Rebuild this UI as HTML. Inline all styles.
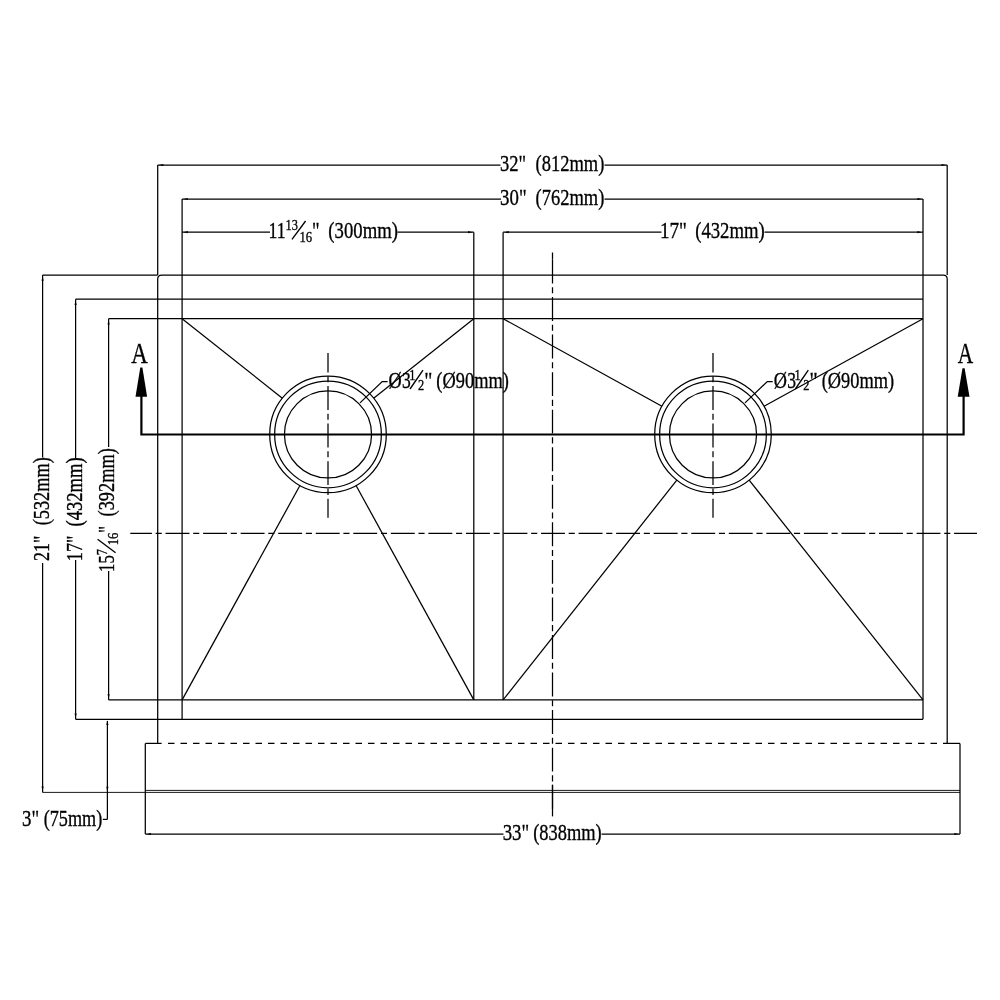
<!DOCTYPE html>
<html><head><meta charset="utf-8"><style>
html,body{margin:0;padding:0;background:#fff;}
svg{display:block;}
text{font-family:"Liberation Serif",serif;fill:#000;stroke:#000;stroke-width:0.35px;}
</style></head><body>
<svg width="1000" height="1000" viewBox="0 0 1000 1000">
<rect width="1000" height="1000" fill="#fff"/>
<line x1="157.70" y1="165.00" x2="500.50" y2="165.00" stroke="#000" stroke-width="1.25" />
<line x1="604.50" y1="165.00" x2="947.20" y2="165.00" stroke="#000" stroke-width="1.25" />
<line x1="182.10" y1="199.00" x2="501.00" y2="199.00" stroke="#000" stroke-width="1.25" />
<line x1="604.50" y1="199.00" x2="923.00" y2="199.00" stroke="#000" stroke-width="1.25" />
<line x1="182.10" y1="232.20" x2="270.00" y2="232.20" stroke="#000" stroke-width="1.25" />
<line x1="397.50" y1="232.20" x2="473.80" y2="232.20" stroke="#000" stroke-width="1.25" />
<line x1="503.10" y1="232.20" x2="661.50" y2="232.20" stroke="#000" stroke-width="1.25" />
<line x1="764.50" y1="232.20" x2="923.00" y2="232.20" stroke="#000" stroke-width="1.25" />
<line x1="157.70" y1="165.00" x2="157.70" y2="275.00" stroke="#000" stroke-width="1.25" />
<line x1="947.20" y1="165.00" x2="947.20" y2="275.00" stroke="#000" stroke-width="1.25" />
<line x1="182.10" y1="199.00" x2="182.10" y2="719.30" stroke="#000" stroke-width="1.25" />
<line x1="923.00" y1="199.00" x2="923.00" y2="719.30" stroke="#000" stroke-width="1.25" />
<line x1="473.80" y1="232.20" x2="473.80" y2="699.90" stroke="#000" stroke-width="1.25" />
<line x1="503.10" y1="232.20" x2="503.10" y2="699.90" stroke="#000" stroke-width="1.25" />
<path d="M157.7,743.4 L157.7,279.0 Q157.7,275.0 161.7,275.0 L943.2,275.0 Q947.2,275.0 947.2,279.0 L947.2,743.4" stroke="#000" stroke-width="1.25" fill="none" />
<line x1="42.60" y1="275.00" x2="157.70" y2="275.00" stroke="#000" stroke-width="1.25" />
<line x1="75.60" y1="299.20" x2="923.00" y2="299.20" stroke="#000" stroke-width="1.25" />
<line x1="108.60" y1="318.70" x2="923.00" y2="318.70" stroke="#000" stroke-width="1.25" />
<line x1="108.60" y1="699.90" x2="923.00" y2="699.90" stroke="#000" stroke-width="1.25" />
<line x1="75.60" y1="719.30" x2="923.00" y2="719.30" stroke="#000" stroke-width="1.25" />
<line x1="42.60" y1="275.00" x2="42.60" y2="457.50" stroke="#000" stroke-width="1.25" />
<line x1="42.60" y1="563.00" x2="42.60" y2="792.40" stroke="#000" stroke-width="1.25" />
<line x1="75.60" y1="299.20" x2="75.60" y2="458.00" stroke="#000" stroke-width="1.25" />
<line x1="75.60" y1="560.00" x2="75.60" y2="719.30" stroke="#000" stroke-width="1.25" />
<line x1="108.60" y1="318.70" x2="108.60" y2="447.00" stroke="#000" stroke-width="1.25" />
<line x1="108.60" y1="571.00" x2="108.60" y2="699.90" stroke="#000" stroke-width="1.25" />
<line x1="107.40" y1="721.00" x2="107.40" y2="819.40" stroke="#000" stroke-width="1.25" />
<line x1="102.80" y1="819.40" x2="107.40" y2="819.40" stroke="#000" stroke-width="1.25" />
<line x1="145.30" y1="743.40" x2="145.30" y2="834.00" stroke="#000" stroke-width="1.25" />
<line x1="960.00" y1="743.40" x2="960.00" y2="834.00" stroke="#000" stroke-width="1.25" />
<line x1="145.30" y1="743.40" x2="161.60" y2="743.40" stroke="#000" stroke-width="1.25" />
<line x1="168.00" y1="743.40" x2="947.20" y2="743.40" stroke="#000" stroke-width="1.25" stroke-dasharray="6.5 6"/>
<line x1="946.20" y1="743.40" x2="960.00" y2="743.40" stroke="#000" stroke-width="1.25" />
<line x1="145.30" y1="790.40" x2="960.00" y2="790.40" stroke="#000" stroke-width="0.9" />
<line x1="42.60" y1="792.40" x2="960.00" y2="792.40" stroke="#000" stroke-width="0.9" />
<line x1="145.30" y1="834.00" x2="503.50" y2="834.00" stroke="#000" stroke-width="1.25" />
<line x1="601.50" y1="834.00" x2="960.00" y2="834.00" stroke="#000" stroke-width="1.25" />
<circle cx="328.0" cy="434.4" r="58.3" stroke="#000" stroke-width="1.25" fill="none"/>
<circle cx="328.0" cy="434.4" r="53.35" stroke="#000" stroke-width="1.25" fill="none"/>
<circle cx="328.0" cy="434.4" r="43.55" stroke="#000" stroke-width="1.25" fill="none"/>
<circle cx="713.0" cy="434.4" r="58.3" stroke="#000" stroke-width="1.25" fill="none"/>
<circle cx="713.0" cy="434.4" r="53.35" stroke="#000" stroke-width="1.25" fill="none"/>
<circle cx="713.0" cy="434.4" r="43.55" stroke="#000" stroke-width="1.25" fill="none"/>
<line x1="182.10" y1="318.70" x2="282.32" y2="398.18" stroke="#000" stroke-width="1.25" />
<line x1="473.80" y1="318.70" x2="373.67" y2="398.16" stroke="#000" stroke-width="1.25" />
<line x1="182.10" y1="699.90" x2="299.92" y2="485.49" stroke="#000" stroke-width="1.25" />
<line x1="473.80" y1="699.90" x2="356.06" y2="485.50" stroke="#000" stroke-width="1.25" />
<line x1="503.10" y1="318.70" x2="661.94" y2="406.26" stroke="#000" stroke-width="1.25" />
<line x1="923.00" y1="318.70" x2="764.06" y2="406.27" stroke="#000" stroke-width="1.25" />
<line x1="503.10" y1="699.90" x2="676.84" y2="480.13" stroke="#000" stroke-width="1.25" />
<line x1="923.00" y1="699.90" x2="749.17" y2="480.13" stroke="#000" stroke-width="1.25" />
<path d="M360.0,402.9 L382.2,381.5 L387.6,381.5" stroke="#000" stroke-width="1.25" fill="none" />
<path d="M745.0,402.9 L767.3,381.5 L772.7,381.5" stroke="#000" stroke-width="1.25" fill="none" />
<line x1="552.50" y1="252.50" x2="552.50" y2="259.60" stroke="#000" stroke-width="1.25" />
<line x1="552.50" y1="259.50" x2="552.50" y2="809.40" stroke="#000" stroke-width="1.25" stroke-dasharray="23.9 3.75 6.1 3.8"/>
<line x1="552.50" y1="784.60" x2="552.50" y2="816.40" stroke="#000" stroke-width="1.25" />
<line x1="130.3" y1="533.4" x2="977" y2="533.4" stroke="#000" stroke-width="1.25" stroke-dasharray="23.9 3.75 6.1 3.8" stroke-dashoffset="2.3"/>
<line x1="328.00" y1="353.00" x2="328.00" y2="517.70" stroke="#000" stroke-width="1.25" stroke-dasharray="23.9 3.75 6.1 3.8" stroke-dashoffset="4.5"/>
<line x1="713.00" y1="353.00" x2="713.00" y2="517.70" stroke="#000" stroke-width="1.25" stroke-dasharray="23.9 3.75 6.1 3.8" stroke-dashoffset="4.5"/>
<path d="M141.4,396 L141.4,434.5 L963.6,434.5 L963.6,396" stroke="#000" stroke-width="2.2" fill="none" />
<polygon points="140.3,367.6 142.4,367.6 147.1,396.7 135.5,396.7" fill="#000"/>
<polygon points="962.5,368.2 964.6,368.2 969.5,396.7 957.7,396.7" fill="#000"/>
<polygon points="158.90,165.00 163.40,163.90 163.40,166.10" fill="#000"/>
<polygon points="946.00,165.00 941.50,166.10 941.50,163.90" fill="#000"/>
<polygon points="183.30,199.00 187.80,197.90 187.80,200.10" fill="#000"/>
<polygon points="921.80,199.00 917.30,200.10 917.30,197.90" fill="#000"/>
<polygon points="183.30,232.20 187.80,231.10 187.80,233.30" fill="#000"/>
<polygon points="472.60,232.20 468.10,233.30 468.10,231.10" fill="#000"/>
<polygon points="504.30,232.20 508.80,231.10 508.80,233.30" fill="#000"/>
<polygon points="921.80,232.20 917.30,233.30 917.30,231.10" fill="#000"/>
<polygon points="146.50,834.00 151.00,832.90 151.00,835.10" fill="#000"/>
<polygon points="958.80,834.00 954.30,835.10 954.30,832.90" fill="#000"/>
<polygon points="42.60,276.20 43.70,280.70 41.50,280.70" fill="#000"/>
<polygon points="42.60,790.90 41.50,786.40 43.70,786.40" fill="#000"/>
<polygon points="75.60,300.40 76.70,304.90 74.50,304.90" fill="#000"/>
<polygon points="75.60,718.10 74.50,713.60 76.70,713.60" fill="#000"/>
<polygon points="108.60,319.90 109.70,324.40 107.50,324.40" fill="#000"/>
<polygon points="108.60,698.70 107.50,694.20 109.70,694.20" fill="#000"/>
<polygon points="107.40,720.60 108.50,725.10 106.30,725.10" fill="#000"/>
<polygon points="107.40,791.20 106.30,786.70 108.50,786.70" fill="#000"/>
<g opacity="0.999">
<text transform="translate(500.07,171.00) scale(0.8058,1)" font-size="23.0">32&quot;</text>
<text transform="translate(535.57,171.00) scale(0.8038,1)" font-size="23.0">(812mm)</text>
<text transform="translate(500.06,205.00) scale(0.8192,1)" font-size="23.0">30&quot;</text>
<text transform="translate(535.57,205.00) scale(0.8038,1)" font-size="23.0">(762mm)</text>
<text transform="translate(659.88,238.00) scale(0.8315,1)" font-size="23.0">17&quot;</text>
<text transform="translate(695.16,238.00) scale(0.8133,1)" font-size="23.0">(432mm)</text>
<text transform="translate(502.66,840.00) scale(0.8192,1)" font-size="23.0">33&quot;</text>
<text transform="translate(533.17,840.00) scale(0.8014,1)" font-size="23.0">(838mm)</text>
<text transform="translate(22.06,826.00) scale(0.8203,1)" font-size="23.0">3&quot;</text>
<text transform="translate(43.68,826.00) scale(0.7905,1)" font-size="23.0">(75mm)</text>
<g transform="translate(49.1,560.1) rotate(-90)"><text transform="translate(-0.81,0.00) scale(0.7826,1)" font-size="23.0">21&quot;</text><text transform="translate(34.78,0.00) scale(0.7954,1)" font-size="23.0">(532mm)</text></g>
<g transform="translate(82.0,559.5) rotate(-90)"><text transform="translate(-1.64,0.00) scale(0.7899,1)" font-size="23.0">17&quot;</text><text transform="translate(32.96,0.00) scale(0.8098,1)" font-size="23.0">(432mm)</text></g>
<g transform="translate(270,238)"><text transform="translate(-1.60,0.00) scale(0.7729,1)" font-size="23.0">11</text><text transform="translate(15.49,-7.80) scale(0.8000,1)" font-size="15.5">13</text><line x1="22" y1="1.4" x2="35.6" y2="-17" stroke="#000" stroke-width="1.35"/><text transform="translate(29.46,3.80) scale(0.8200,1)" font-size="15.5">16</text><text transform="translate(41.99,0.00) scale(0.8075,1)" font-size="23.0">&quot;</text><text transform="translate(58.36,0.00) scale(0.8133,1)" font-size="23.0">(300mm)</text></g>
<g transform="translate(114.4,570.4) rotate(-90)"><text transform="translate(-1.49,0.00) scale(0.7196,1)" font-size="23.0">15</text><text transform="translate(15.08,-7.80) scale(0.8000,1)" font-size="15.5">7</text><line x1="17.6" y1="1.2" x2="31.2" y2="-16.8" stroke="#000" stroke-width="1.35"/><text transform="translate(25.06,4.00) scale(0.8200,1)" font-size="15.5">16</text><text transform="translate(37.73,0.00) scale(0.7143,1)" font-size="23.0">&quot;</text><text transform="translate(53.98,0.00) scale(0.7966,1)" font-size="23.0">(392mm)</text></g>
<g transform="translate(389.2,387.6)"><text transform="translate(-0.73,0.00) scale(0.7948,1)" font-size="23.0">&#216;</text><text transform="translate(12.72,0.00) scale(0.7635,1)" font-size="23.0">3</text><text transform="translate(20.11,-8.00) scale(0.8000,1)" font-size="15.5">1</text><line x1="20.8" y1="1.4" x2="33.8" y2="-17.4" stroke="#000" stroke-width="1.35"/><text transform="translate(28.86,2.60) scale(0.8000,1)" font-size="15.5">2</text><text transform="translate(35.10,0.00) scale(0.8696,1)" font-size="23.0">&quot;</text><text transform="translate(47.17,0.00) scale(0.7996,1)" font-size="23.0">(&#216;90mm)</text></g>
<g transform="translate(774.508,387.6)"><text transform="translate(-0.73,0.00) scale(0.7948,1)" font-size="23.0">&#216;</text><text transform="translate(12.72,0.00) scale(0.7635,1)" font-size="23.0">3</text><text transform="translate(20.11,-8.00) scale(0.8000,1)" font-size="15.5">1</text><line x1="20.8" y1="1.4" x2="33.8" y2="-17.4" stroke="#000" stroke-width="1.35"/><text transform="translate(28.86,2.60) scale(0.8000,1)" font-size="15.5">2</text><text transform="translate(35.10,0.00) scale(0.8696,1)" font-size="23.0">&quot;</text><text transform="translate(47.17,0.00) scale(0.7996,1)" font-size="23.0">(&#216;90mm)</text></g>
<text transform="translate(131.37,363.00) scale(0.7638,1)" font-size="29.9">A</text>
<text transform="translate(957.79,363.40) scale(0.7163,1)" font-size="29.9">A</text>
</g>
</svg>
</body></html>
